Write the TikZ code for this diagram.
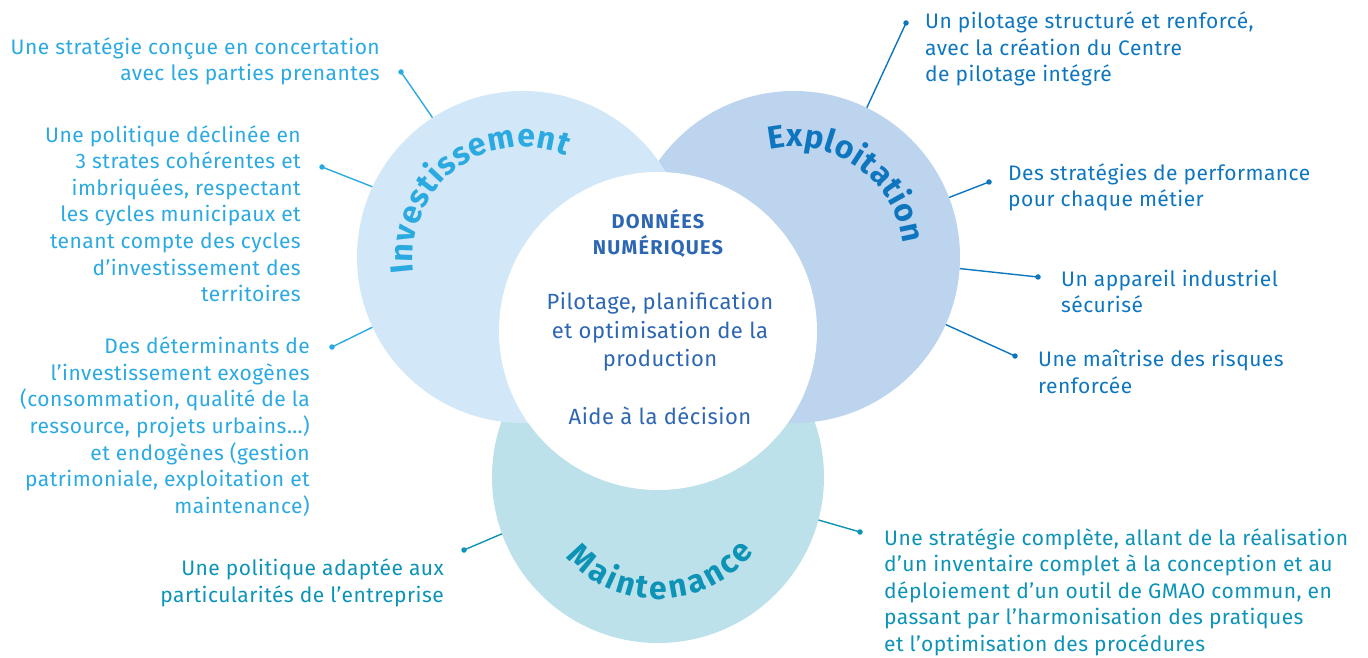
\documentclass[tikz,border=0pt]{standalone}
\usepackage{fontspec}
\setmainfont{Fira Sans}
\newfontfamily\sidefont{Fira Sans}[LetterSpace=2.2]
\newfontfamily\ctrfont{Fira Sans}[LetterSpace=2.2]
\newfontfamily\ctrbold{Fira Sans}[LetterSpace=6]
\usetikzlibrary{decorations.text}
\definecolor{investfill}{HTML}{D2E7F7}
\definecolor{explfill}{HTML}{BDD4EF}
\definecolor{maintfill}{HTML}{BCE1EA}
\definecolor{investtxt}{HTML}{2BA9E1}
\definecolor{expltxt}{HTML}{0E76BF}
\definecolor{mainttxt}{HTML}{0C93B6}
\definecolor{centertxt}{HTML}{2D66B2}
\newcommand{\curvefont}{\bfseries\fontsize{32}{32}\selectfont}
\tikzset{
  x=1pt, y=1pt,
  disc/.style={circle, inner sep=0pt, minimum size=#1},
  txt/.style={inner sep=0pt, font=\sidefont\fontsize{21}{26.6}\selectfont},
  ctxt/.style={inner sep=0pt, align=center, text=centertxt},
  dotst/.style={circle, fill, inner sep=0pt, minimum size=5.5pt},
  conn/.style={line width=1.4pt},
}
\begin{document}
\begin{tikzpicture}
\useasboundingbox (0,0) rectangle (1368,657);
% circles
\node[disc=332pt, fill=maintfill] (maint) at (658,180) {};
\node[disc=332pt, fill=explfill] (expl) at (794,400) {};
\node[disc=332pt, fill=investfill] (inv) at (523,400) {};
\node[disc=318pt, fill=white] (core) at (658,326) {};
% curved titles
\path[decorate, decoration={text along path, text align=fit to path, text color=investtxt,
  text={|\curvefont|Investissement}}]
  (523,400) ++(188:110) arc[start angle=188, end angle=67, radius=110];
\path[decorate, decoration={text along path, text align=fit to path, text color=expltxt,
  text={|\curvefont|Exploitation}}]
  (794,400) ++(103:110) arc[start angle=103, end angle=7, radius=110];
\path[decorate, decoration={text along path, text align=fit to path, text color=mainttxt,
  text={|\curvefont|Maintenance}}]
  (658,180) ++(221:122) arc[start angle=221, end angle=322, radius=122];
% centre (anchor base = baseline of the last line)
\node[ctxt, anchor=base, font=\ctrbold\bfseries\fontsize{20}{26}\selectfont] (dn) at (658,402.7) {DONNÉES\\NUMÉRIQUES};
\node[ctxt, anchor=base, font=\ctrfont\fontsize{22}{28.7}\selectfont] (pp) at (660,290.3) {Pilotage, planification\\et optimisation de la\\production};
\node[ctxt, anchor=base, font=\ctrfont\fontsize{22}{28.7}\selectfont] (ad) at (660,232.7) {Aide à la décision};
% left texts (investissement)
\node[txt, text=investtxt, align=right, anchor=base east] (t1) at (380,576) {Une stratégie conçue en concertation\\avec les parties prenantes};
\node[txt, text=investtxt, align=right, anchor=base east] (t2) at (301,355.3) {Une politique déclinée en\\3 strates cohérentes et\\imbriquées, respectant\\les cycles municipaux et\\tenant compte des cycles\\d’investissement des\\territoires};
\node[txt, text=investtxt, align=right, anchor=base east] (t3) at (310,143.7) {Des déterminants de\\l’investissement exogènes\\(consommation, qualité de la\\ressource, projets urbains…)\\et endogènes (gestion\\patrimoniale, exploitation et\\maintenance)};
\node[txt, text=mainttxt, align=right, anchor=base east] (t4) at (444,54.7) {Une politique adaptée aux\\particularités de l’entreprise};
% right texts (exploitation)
\node[txt, text=expltxt, align=left, anchor=base west] (t5) at (925,575.3) {Un pilotage structuré et renforcé,\\avec la création du Centre\\de pilotage intégré};
\node[txt, text=expltxt, align=left, anchor=base west] (t6) at (1008,450.3) {Des stratégies de performance\\pour chaque métier};
\node[txt, text=expltxt, align=left, anchor=base west] (t7) at (1061,344.3) {Un appareil industriel\\sécurisé};
\node[txt, text=expltxt, align=left, anchor=base west] (t8) at (1038,264) {Une maîtrise des risques\\renforcée};
\node[txt, text=mainttxt, align=left, anchor=base west] (t9) at (884,5.6) {Une stratégie complète, allant de la réalisation\\d’un inventaire complet à la conception et au\\déploiement d’un outil de GMAO commun, en\\passant par l’harmonisation des pratiques\\et l’optimisation des procédures};
% dots
\node[dotst, fill=investtxt] (d1) at (401,585) {};
\node[dotst, fill=investtxt] (d2) at (322,490) {};
\node[dotst, fill=investtxt] (d3) at (332,310) {};
\node[dotst, fill=mainttxt] (d4) at (464,107) {};
\node[dotst, fill=expltxt] (d5) at (906,634) {};
\node[dotst, fill=expltxt] (d6) at (989,475) {};
\node[dotst, fill=expltxt] (d7) at (1038,380) {};
\node[dotst, fill=expltxt] (d8) at (1015,301) {};
\node[dotst, fill=mainttxt] (d9) at (860,125) {};
% connectors
\draw[conn, investtxt] (d1.center) -- (inv.123.4);
\draw[conn, investtxt] (d2.center) -- (inv.155.8);
\draw[conn, investtxt] (d3.center) -- (inv.205.3);
\draw[conn, mainttxt] (d4.center) -- (maint.200.6);
\draw[conn, expltxt] (d5.center) -- (expl.64.5);
\draw[conn, expltxt] (d6.center) -- (expl.21);
\draw[conn, expltxt] (d7.center) -- (expl.-4.8);
\draw[conn, expltxt] (d8.center) -- (expl.-24.7);
\draw[conn, mainttxt] (d9.center) -- (maint.-15.4);
\end{tikzpicture}
\end{document}
